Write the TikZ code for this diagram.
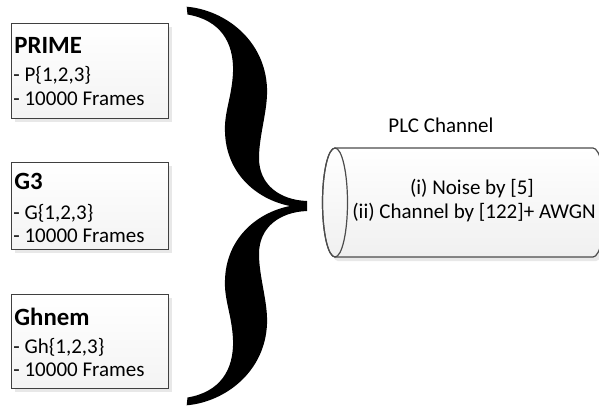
\documentclass[tikz,border=0pt]{standalone}
\usepackage{fontspec}
\setmainfont{Carlito}
\begin{document}
\begin{tikzpicture}[x=0.5pt,y=-0.5pt,
  boxstyle/.style={draw=black!75, line width=0.6pt, top color=white, bottom color=gray!9, inner sep=0pt, anchor=north west},
  shadowstyle/.style={fill=gray!18, draw=none},
  titletext/.style={anchor=base west, inner sep=0pt, font=\fontsize{12.4}{14}\selectfont\bfseries},
  bodytext/.style={anchor=base west, inner sep=0pt, font=\fontsize{10.5}{12.6}\selectfont},
  cyltext/.style={anchor=base, inner sep=0pt, font=\fontsize{10.5}{12.6}\selectfont}]
\useasboundingbox[fill=white] (0,0) rectangle (599,407);

% shadows of boxes
\fill[shadowstyle] (15,27) rectangle (172,122);
\fill[shadowstyle] (15,166) rectangle (172,253);
\fill[shadowstyle] (15,298) rectangle (172,392);

% boxes
\node[boxstyle, minimum width=78.5pt, minimum height=47.5pt] (prime) at (11,23) {};
\node[boxstyle, minimum width=78.5pt, minimum height=43.5pt] (gthree) at (11,162) {};
\node[boxstyle, minimum width=78.5pt, minimum height=47pt] (ghnem) at (11,294) {};

\node[titletext] (primeT) at (14,53) {PRIME};
\node[bodytext] (primeA) at (13,81) {- P\{1,2,3\}};
\node[bodytext] (primeB) at (13,105) {- 10000 Frames};

\node[titletext] (gthreeT) at (14,189) {G3};
\node[bodytext] (gthreeA) at (13,219) {- G\{1,2,3\}};
\node[bodytext] (gthreeB) at (13,242) {- 10000 Frames};

\node[titletext] (ghnemT) at (14,325) {Ghnem};
\node[bodytext] (ghnemA) at (13,353) {- Gh\{1,2,3\}};
\node[bodytext] (ghnemB) at (13,376) {- 10000 Frames};

% brace
\fill[black] (186.7,6.7) .. controls (225,10) and (265,40) .. (267,88)
  .. controls (268,110) and (259,135) .. (259,158)
  .. controls (259,185) and (280,200) .. (307,201)
  -- (307,211)
  .. controls (280,212) and (259,227) .. (259,254)
  .. controls (259,277) and (268,302) .. (267,324)
  .. controls (265,372) and (225,402) .. (186.7,405.3)
  -- (187.5,397.5)
  .. controls (220,392) and (234,370) .. (233,340)
  .. controls (232,315) and (224,300) .. (225,280)
  .. controls (226,240) and (255,213) .. (290,206)
  .. controls (255,199) and (226,172) .. (225,132)
  .. controls (224,112) and (232,97) .. (233,72)
  .. controls (234,42) and (220,20) .. (187.5,14.5)
  -- cycle;

% cylinder shadow
\fill[shadowstyle] (338,152) -- (596,152) arc[start angle=-90, end angle=90, x radius=12.5, y radius=54.5]
  -- (338,261) arc[start angle=90, end angle=270, x radius=12.5, y radius=54.5] -- cycle;
% cylinder
\draw[draw=black!70, line width=0.6pt, top color=white, bottom color=gray!12]
  (335,148) -- (593,148) arc[start angle=-90, end angle=90, x radius=12.5, y radius=54.5]
  -- (335,257) arc[start angle=90, end angle=270, x radius=12.5, y radius=54.5] -- cycle;
\draw[draw=black!70, line width=0.6pt] (335,202.5) ellipse[x radius=12.5, y radius=54.5];

\node[cyltext] (plc) at (441,132) {PLC Channel};
\node[cyltext] (noise) at (472,194) {(i) Noise by [5]};
\node[cyltext] (chan) at (474,218) {(ii) Channel by [122]+ AWGN};
\end{tikzpicture}
\end{document}
